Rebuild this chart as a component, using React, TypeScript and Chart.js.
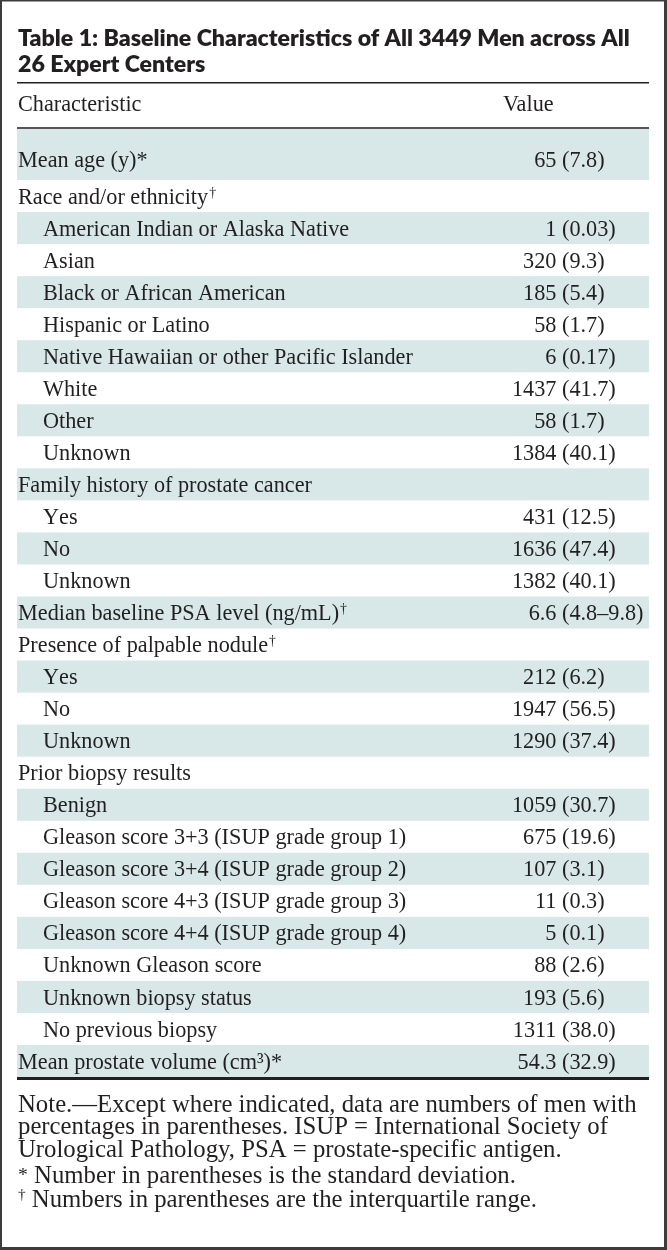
import React, { useEffect, useRef } from "react";
import { Chart, registerables } from "chart.js";

Chart.register(...registerables);

// ---------- data ----------
const titleLines = [
  "Table 1: Baseline Characteristics of All 3449 Men across All",
  "26 Expert Centers",
];
const columnHeaders = ["Characteristic", "Value"];

const rowLabels = [
  "Mean age (y)*",
  "Race and/or ethnicity†",
  "American Indian or Alaska Native",
  "Asian",
  "Black or African American",
  "Hispanic or Latino",
  "Native Hawaiian or other Pacific Islander",
  "White",
  "Other",
  "Unknown",
  "Family history of prostate cancer",
  "Yes",
  "No",
  "Unknown",
  "Median baseline PSA level (ng/mL)†",
  "Presence of palpable nodule†",
  "Yes",
  "No",
  "Unknown",
  "Prior biopsy results",
  "Benign",
  "Gleason score 3+3 (ISUP grade group 1)",
  "Gleason score 3+4 (ISUP grade group 2)",
  "Gleason score 4+3 (ISUP grade group 3)",
  "Gleason score 4+4 (ISUP grade group 4)",
  "Unknown Gleason score",
  "Unknown biopsy status",
  "No previous biopsy",
  "Mean prostate volume (cm³)*",
];

const rowIndent = [0, 0, 1, 1, 1, 1, 1, 1, 1, 1, 0, 1, 1, 1, 0, 0, 1, 1, 1, 0, 1, 1, 1, 1, 1, 1, 1, 1, 0];

const valueCounts = [
  "65", "", "1", "320", "185", "58", "6", "1437", "58", "1384",
  "", "431", "1636", "1382", "6.6", "", "212", "1947", "1290", "",
  "1059", "675", "107", "11", "5", "88", "193", "1311", "54.3",
];
const valueParens = [
  "7.8", "", "0.03", "9.3", "5.4", "1.7", "0.17", "41.7", "1.7", "40.1",
  "", "12.5", "47.4", "40.1", "4.8–9.8", "", "6.2", "56.5", "37.4", "",
  "30.7", "19.6", "3.1", "0.3", "0.1", "2.6", "5.6", "38.0", "32.9",
];

const noteLines = [
  "Note.—Except where indicated, data are numbers of men with",
  "percentages in parentheses. ISUP = International Society of",
  "Urological Pathology, PSA = prostate-specific antigen.",
];
const footMarks = ["*", "†"];
const footTexts = [
  "Number in parentheses is the standard deviation.",
  "Numbers in parentheses are the interquartile range.",
];

// ---------- style ----------
const INK = "#231f20";
const BAND = "#d8e7e8";
const FRAME = "#3c3c3c";
const SERIF = '"Liberation Serif", "DejaVu Serif", serif';
const SANS = 'Lato, "Open Sans", "DejaVu Sans", sans-serif';

function fitSize(ctx: CanvasRenderingContext2D, font: (s: number) => string, text: string, target: number) {
  ctx.font = font(100);
  const w = ctx.measureText(text).width;
  return (100 * target) / w;
}

function drawRich(ctx: CanvasRenderingContext2D, text: string, x: number, base: number, fs: number) {
  let cx = x;
  for (const ch of Array.from(text)) {
    if (ch === "†") {
      const s = fs * 0.62;
      ctx.font = `${s}px ${SERIF}`;
      ctx.fillText(ch, cx + 1, base - fs * 0.3);
      cx += ctx.measureText(ch).width + 1;
    } else {
      ctx.font = `${fs}px ${SERIF}`;
      ctx.fillText(ch, cx, base);
      cx += ctx.measureText(ch).width;
    }
  }
  ctx.font = `${fs}px ${SERIF}`;
  return cx;
}

const tablePlugin = {
  id: "tableDraw",
  beforeDraw(chart: any) {
    const { ctx, chartArea } = chart;
    const y = chart.scales.y;
    const W = chart.width;
    const H = chart.height;
    const L = chartArea.left;
    const R = chartArea.right;
    ctx.save();
    ctx.fillStyle = "#ffffff";
    ctx.fillRect(0, 0, W, H);

    // frame
    ctx.fillStyle = FRAME;
    ctx.fillRect(0, 0, 2, H);
    ctx.fillRect(0, 0, W, 1.5);
    ctx.fillRect(W - 3, 0, 3, H);
    ctx.fillRect(0, H - 3, W, 3);

    // title
    const titleFont = (s: number) => `800 ${s}px ${SANS}`;
    const titleFs = fitSize(ctx, titleFont, titleLines[0], 612);
    ctx.fillStyle = INK;
    ctx.font = titleFont(titleFs);
    ctx.textBaseline = "alphabetic";
    ctx.textAlign = "left";
    const titleTop = chartArea.top - 148;
    titleLines.forEach((t, i) => {
      ctx.fillText(t, L + 1, titleTop + 46 + i * 26);
    });

    // title rule
    ctx.fillStyle = INK;
    ctx.fillRect(L, titleTop + 82, R - L, 1.5);

    const fs = fitSize(ctx, (s) => `${s}px ${SERIF}`, rowLabels[6], 370);
    const xh = fs * 0.46;
    const drop = 2.5;
    const parenX = 562;
    ctx.font = `${fs}px ${SERIF}`;
    const spaceW = ctx.measureText(" ").width;

    // header
    ctx.fillText(columnHeaders[0], L + 1, titleTop + 106 + xh / 2);
    ctx.fillText(columnHeaders[1], 503, titleTop + 106 + xh / 2);
    const headerRule = chartArea.top - 20;
    ctx.fillRect(L, headerRule - 0.75, R - L, 1.5);

    // rows
    const step = y.getPixelForValue(1) - y.getPixelForValue(0);
    rowLabels.forEach((lab: string, i: number) => {
      const c = y.getPixelForValue(i);
      let top = c - step / 2;
      const bottom = c + step / 2;
      let tc = c;
      if (i === 0) {
        top = headerRule + 1;
        tc = c - 5;
      }
      if (i % 2 === 0) {
        ctx.fillStyle = BAND;
        ctx.fillRect(L, top, R - L, bottom - top);
      }
      ctx.fillStyle = INK;
      const base = tc + xh / 2 + drop;
      ctx.textAlign = "left";
      drawRich(ctx, lab, L + 1 + rowIndent[i] * 25, base, fs);
      if (valueCounts[i]) {
        ctx.font = `${fs}px ${SERIF}`;
        ctx.textAlign = "right";
        ctx.fillText(valueCounts[i], parenX - spaceW, base);
        ctx.textAlign = "left";
        ctx.fillText(`(${valueParens[i]})`, parenX, base);
      }
    });

    // bottom rule
    ctx.fillStyle = INK;
    ctx.fillRect(L, chartArea.bottom, R - L, 3);

    // notes
    const noteFs = fitSize(ctx, (s) => `${s}px ${SERIF}`, noteLines[0], 619);
    const nxh = noteFs * 0.46;
    ctx.textAlign = "left";
    ctx.font = `${noteFs}px ${SERIF}`;
    const nb = chartArea.bottom;
    noteLines.forEach((t, i) => {
      ctx.fillText(t, L + 1, nb + 29 + i * 22.5 + nxh / 2);
    });
    footMarks.forEach((m, i) => {
      const base = nb + 100 + i * 24 + nxh / 2;
      let x = L + 1;
      if (m === "†") {
        ctx.font = `${noteFs * 0.62}px ${SERIF}`;
        ctx.fillText(m, x, base - noteFs * 0.3);
        x += ctx.measureText(m).width;
      } else {
        ctx.font = `${noteFs * 0.8}px ${SERIF}`;
        ctx.fillText(m, x, base - noteFs * 0.08);
        x += ctx.measureText(m).width;
      }
      ctx.font = `${noteFs}px ${SERIF}`;
      ctx.fillText(" " + footTexts[i], x, base);
    });
    ctx.restore();
  },
};

export default function App() {
  const ref = useRef<HTMLCanvasElement | null>(null);
  useEffect(() => {
    document.body.style.margin = "0";
    const canvas = ref.current;
    if (!canvas) return;
    const chart = new Chart(canvas, {
      type: "bar",
      data: {
        labels: rowLabels,
        datasets: [{ data: rowLabels.map(() => null), backgroundColor: "transparent" }],
      },
      options: {
        indexAxis: "y",
        animation: false,
        responsive: false,
        devicePixelRatio: 1,
        layout: { padding: { top: 148, bottom: 173, left: 17, right: 18 } },
        scales: {
          x: { type: "linear", display: false, min: 0, max: 1 },
          y: { type: "category", display: false, offset: true },
        },
        plugins: { legend: { display: false }, tooltip: { enabled: false }, title: { display: false } },
      },
      plugins: [tablePlugin],
    } as any);
    return () => chart.destroy();
  }, []);
  return (
    <div style={{ width: 667, height: 1250 }}>
      <canvas ref={ref} width={667} height={1250} style={{ width: 667, height: 1250, display: "block" }} />
    </div>
  );
}
